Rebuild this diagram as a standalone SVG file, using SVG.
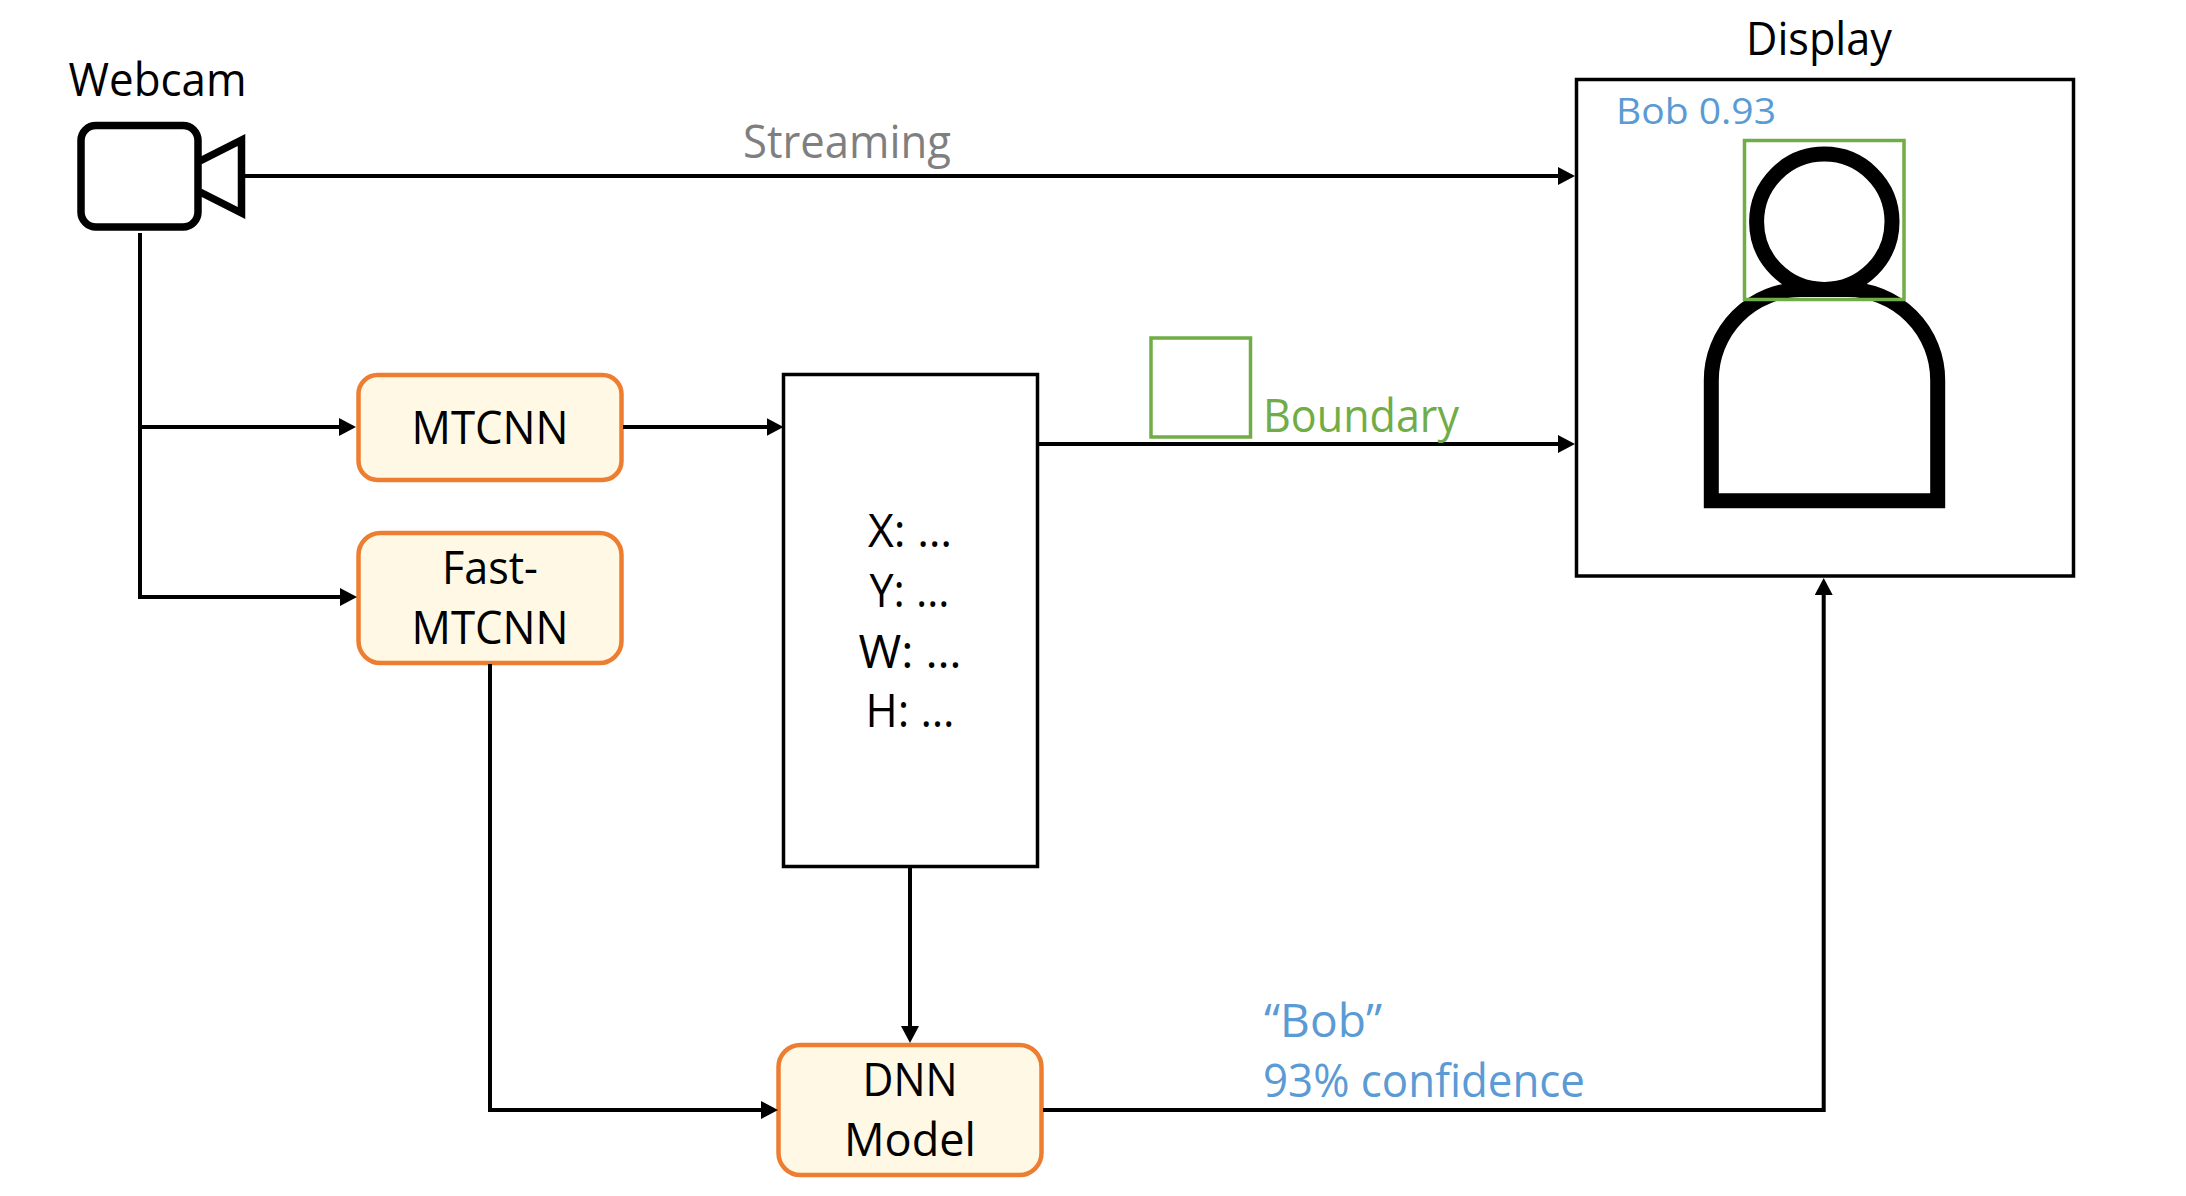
<svg xmlns="http://www.w3.org/2000/svg" width="2186" height="1196" viewBox="0 0 2186 1196">
<style>
text{font-family:"Open Sans","Noto Sans","Liberation Sans",sans-serif;font-size:45px;fill:#000}
.c{text-anchor:middle}
.blue{fill:#5B9BD5}
.green{fill:#70AD47}
.gray{fill:#7F7F7F}
.proc{fill:#FFF8E5;stroke:#ED7D31;stroke-width:4.5}
.box{fill:#fff;stroke:#000;stroke-width:3.5}
.gbox{fill:none;stroke:#70AD47;stroke-width:3.5}
.conn{fill:none;stroke:#000;stroke-width:4;marker-end:url(#ah)}
.plain{fill:none;stroke:#000;stroke-width:4}
.icon{fill:none;stroke:#000;stroke-width:7.5}
.person{fill:none;stroke:#000;stroke-width:15;stroke-miterlimit:10}
</style>
<defs>
<marker id="ah" markerUnits="userSpaceOnUse" markerWidth="17" markerHeight="18" viewBox="0 0 17 18" refX="7" refY="9" orient="auto"><path d="M0 0L17 9L0 18Z" fill="#000"/></marker>
</defs>
<rect width="2186" height="1196" fill="#fff"/>
<g id="display">
<rect class="box" x="1576.5" y="79.5" width="497" height="496.5"/>
<text class="c" x="1819" y="55" textLength="146" lengthAdjust="spacingAndGlyphs">Display</text>
<text class="blue" x="1616" y="124" style="font-size:37px" textLength="160" lengthAdjust="spacingAndGlyphs">Bob 0.93</text>
<path class="person" d="M1711.3 500.7V380A90.4 90.4 0 0 1 1801.7 289.6H1847.3A90.4 90.4 0 0 1 1937.7 380V500.7Z"/>
<circle class="person" cx="1824.3" cy="221.8" r="67.7"/>
<rect class="gbox" x="1744.5" y="140.5" width="159.5" height="159"/>
</g>
<g id="webcam">
<text x="68.5" y="95.5" textLength="178" lengthAdjust="spacingAndGlyphs">Webcam</text>
<rect class="icon" x="81" y="125.5" width="117" height="101.5" rx="15"/>
<path class="icon" d="M200 161L241.5 140V213L200 192"/>
</g>
<g id="mtcnn">
<rect class="proc" x="358.5" y="375" width="263" height="105" rx="19"/>
<text class="c" x="490" y="444" textLength="157" lengthAdjust="spacingAndGlyphs">MTCNN</text>
</g>
<g id="fast-mtcnn">
<rect class="proc" x="358.5" y="533" width="263" height="130" rx="22"/>
<text class="c" x="490" y="583.6" textLength="96" lengthAdjust="spacingAndGlyphs">Fast-</text>
<text class="c" x="490" y="644" textLength="157" lengthAdjust="spacingAndGlyphs">MTCNN</text>
</g>
<g id="coords">
<rect class="box" x="783.5" y="374.5" width="254" height="492"/>
<text class="c" x="910" y="546.5" textLength="84" lengthAdjust="spacingAndGlyphs">X: …</text>
<text class="c" x="909.5" y="607" textLength="80" lengthAdjust="spacingAndGlyphs">Y: …</text>
<text class="c" x="910" y="668" textLength="103" lengthAdjust="spacingAndGlyphs">W: …</text>
<text class="c" x="910" y="727" textLength="89" lengthAdjust="spacingAndGlyphs">H: …</text>
</g>
<g id="dnn">
<rect class="proc" x="778.5" y="1045" width="263" height="130" rx="22"/>
<text class="c" x="910" y="1096" textLength="95" lengthAdjust="spacingAndGlyphs">DNN</text>
<text class="c" x="910" y="1156" textLength="132" lengthAdjust="spacingAndGlyphs">Model</text>
</g>
<g id="connectors">
<path class="conn" d="M245 176H1565"/>
<path class="plain" d="M140 233V597"/>
<path class="conn" d="M140 427H346"/>
<path class="conn" d="M138 597H347"/>
<path class="conn" d="M623 427H773.5"/>
<path class="conn" d="M1037.5 444H1565"/>
<path class="conn" d="M910 866.5V1033"/>
<path class="conn" d="M490 664V1110H768"/>
<path class="conn" d="M1043 1110H1823.7V588"/>
</g>
<g id="labels">
<text class="gray" x="743" y="157.5" textLength="208" lengthAdjust="spacingAndGlyphs">Streaming</text>
<rect class="gbox" x="1151" y="338" width="99.5" height="99"/>
<text class="green" x="1263" y="431.5" textLength="196" lengthAdjust="spacingAndGlyphs">Boundary</text>
<text class="blue" x="1264" y="1037" textLength="118" lengthAdjust="spacingAndGlyphs">“Bob”</text>
<text class="blue" x="1263" y="1097" textLength="322" lengthAdjust="spacingAndGlyphs">93% confidence</text>
</g>
</svg>
